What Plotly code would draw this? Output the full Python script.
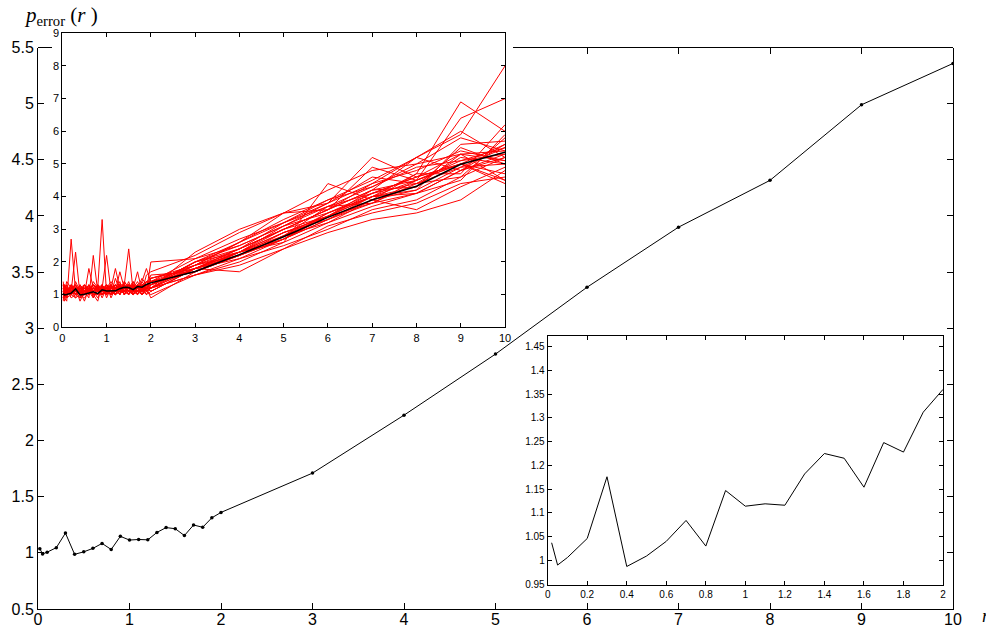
import plotly.graph_objects as go

# ---------------- data ----------------
r_values = [0.02, 0.05, 0.1, 0.2, 0.3, 0.4, 0.5, 0.6, 0.7, 0.8, 0.9, 1.0,
            1.1, 1.2, 1.3, 1.4, 1.5, 1.6, 1.7, 1.8, 1.9, 2.0,
            3, 4, 5, 6, 7, 8, 9, 10]
p_error_mean = [1.037, 0.990, 1.006, 1.046, 1.176, 0.987, 1.009, 1.040, 1.084, 1.030,
                1.147, 1.114, 1.119, 1.116, 1.182, 1.225, 1.215, 1.154, 1.248, 1.228,
                1.312, 1.360,
                1.71, 2.226, 2.77, 3.365, 3.90, 4.317, 4.99, 5.358]

# individual realisations (red curves in the upper-left inset)
run01 = [1.1,0.9,0.8,2.7,1.1,0.9,1.0,1.2,1.0,0.8,1.3,1.1,1.0,1.2,1.3,1.1,1.4,1.0,1.2,1.3,1.4,1.5, 1.8,2.3,2.9,3.4,4.0,4.5,5.1,5.5]
run02 = [1.3,1.0,1.2,1.1,2.3,1.0,0.9,1.1,1.3,1.2,0.9,1.2,1.3,1.0,1.1,1.4,1.2,1.3,1.1,1.2,1.3,1.2, 1.6,2.0,2.6,3.2,3.7,4.1,4.8,5.2]
run03 = [0.9,1.2,1.0,1.3,1.1,1.2,1.1,0.9,2.2,1.1,1.0,1.3,1.2,1.1,1.4,1.0,1.3,1.2,1.4,1.1,1.2,1.4, 1.7,2.2,2.7,3.3,3.9,4.2,4.9,5.0]
run04 = [1.0,0.8,1.1,1.0,1.2,0.8,1.1,1.3,1.0,1.2,3.3,1.0,1.1,1.3,1.2,1.2,1.1,1.4,1.2,1.5,1.3,1.3, 1.8,2.4,3.0,3.6,4.2,4.3,5.3,5.4]
run05 = [1.2,1.1,0.9,1.2,1.3,1.1,1.2,1.0,1.1,0.9,1.2,2.2,1.1,1.0,1.3,1.3,1.2,1.1,1.3,1.2,1.4,1.3, 1.9,2.2,2.8,3.4,3.8,4.4,4.6,5.8]
run06 = [1.4,1.0,1.2,0.9,1.0,1.2,1.3,1.1,0.9,1.3,1.1,1.2,1.4,1.2,1.1,1.3,2.4,1.1,1.2,1.3,1.2,1.6, 1.7,2.3,3.1,3.5,4.1,4.6,5.0,4.7]
run07 = [0.8,1.3,1.0,1.1,0.9,1.3,1.0,1.8,1.2,1.0,1.3,0.9,1.2,1.8,1.2,1.0,1.3,1.2,1.7,1.1,1.3,1.2, 1.6,2.1,2.5,3.0,3.6,3.9,4.6,5.2]
run08 = [1.1,1.2,1.3,1.0,1.2,1.0,1.1,1.2,1.3,1.1,1.2,1.0,1.3,1.1,1.7,1.2,1.0,1.3,1.1,1.4,1.8,1.4, 2.1,2.5,3.1,3.8,4.4,4.8,5.4,5.1]
run09 = [1.0,1.1,1.4,1.2,1.1,1.1,0.8,1.2,1.1,1.3,1.0,1.2,1.1,1.0,1.2,1.1,1.2,1.0,1.3,1.2,1.1,2.0, 2.1,2.7,3.2,3.9,4.5,5.2,5.9,8.0]
run10 = [1.2,0.9,1.0,1.3,1.0,1.2,1.1,1.0,1.4,1.2,1.1,1.3,0.9,1.2,1.1,1.3,1.1,1.2,1.0,1.3,1.2,1.3, 2.0,2.3,2.9,3.4,4.2,4.5,6.4,7.0]
run11 = [0.9,1.0,1.1,1.1,1.3,1.0,1.2,1.1,1.0,1.1,1.2,1.1,1.3,1.2,1.0,1.2,1.3,1.1,1.2,1.0,1.3,1.1, 1.8,2.2,2.8,3.2,3.9,4.7,6.9,6.0]
run12 = [1.3,1.1,1.0,1.2,1.1,0.9,1.3,1.2,1.1,1.0,1.3,1.0,1.2,1.1,1.3,1.1,1.2,1.4,1.0,1.2,1.1,1.2, 1.9,2.6,3.3,3.9,4.3,5.0,5.3,4.5]
run13 = [1.1,1.3,0.9,1.0,1.2,1.1,1.0,1.3,0.9,1.2,1.0,1.1,1.0,1.3,1.2,1.0,1.1,1.3,1.1,1.0,1.2,0.9, 1.7,2.3,2.7,3.3,4.0,4.3,5.5,5.0]
run14 = [1.0,1.0,1.2,1.1,1.0,1.3,1.1,1.0,1.2,1.1,1.0,1.2,1.1,1.0,1.3,1.2,1.0,1.2,1.3,1.1,1.3,1.2, 2.3,3.0,3.5,3.8,5.2,4.6,5.0,4.4]
run15 = [1.2,1.2,1.1,1.0,0.9,1.0,1.2,1.0,1.1,1.3,1.2,1.0,1.2,1.3,1.0,1.3,1.1,1.0,1.2,1.2,1.0,1.3, 1.8,2.3,2.6,4.4,3.9,3.6,4.3,4.9]
run16 = [0.9,1.1,1.0,1.2,1.2,1.0,1.1,1.2,1.0,1.1,1.1,1.3,1.0,1.1,1.1,1.2,1.1,1.2,1.0,1.3,1.2,1.1, 1.8,1.7,2.4,2.9,3.3,3.5,3.9,4.8]
run17 = [1.3,0.9,1.2,1.1,1.1,1.2,1.0,1.1,1.2,1.0,1.2,1.1,1.3,1.0,1.2,1.0,1.2,1.1,1.3,1.1,1.2,1.4, 1.7,2.2,2.9,3.3,3.8,4.5,5.0,5.6]
run18 = [1.0,1.2,1.1,1.2,1.0,1.1,1.3,1.1,1.2,1.1,1.0,1.2,1.1,1.2,1.2,1.1,1.3,1.0,1.1,1.2,1.3,1.3, 1.9,2.4,3.0,3.6,4.2,5.2,4.8,5.3]
run19 = [1.1,1.0,1.3,1.0,1.2,1.0,1.1,1.2,1.0,1.2,1.1,1.0,1.2,1.1,1.2,1.3,1.0,1.2,1.2,1.0,1.1,1.5, 1.8,2.1,2.7,3.5,4.0,4.2,5.6,5.7]
run20 = [1.2,1.1,1.0,1.1,1.1,1.2,1.0,1.1,1.3,1.2,1.0,1.1,1.0,1.2,1.1,1.2,1.2,1.3,1.1,1.3,1.2,1.2, 2.0,2.5,3.1,3.7,4.3,4.9,5.1,5.3]
run21 = [1.1,1.2,1.0,1.3,1.2,1.1,1.0,1.3,1.1,1.0,1.2,1.2,1.1,1.0,1.3,1.1,1.3,1.1,1.2,1.1,1.4,1.4, 1.9,2.3,2.8,3.7,3.8,4.1,4.5,5.9]
run22 = [1.0,1.3,1.1,1.0,1.1,1.0,1.2,1.1,1.2,1.0,1.3,1.0,1.2,1.2,1.0,1.2,1.1,1.0,1.3,1.2,1.0,1.1, 1.8,2.2,2.7,3.4,4.1,4.4,4.9,5.5]
run23 = [1.2,1.0,1.1,1.0,1.4,1.1,1.0,1.2,1.1,1.2,1.3,1.1,1.0,1.5,1.1,1.2,1.1,1.3,1.2,1.1,1.6,1.7, 2.2,2.9,3.5,4.2,4.8,5.0,5.8,5.4]
run24 = [1.0,1.1,1.2,1.1,1.0,1.2,1.1,1.3,1.0,1.1,1.2,1.3,1.1,1.2,1.0,1.4,1.2,1.1,1.3,1.2,1.1,1.0, 1.6,1.9,2.4,3.1,3.5,3.8,4.4,4.6]
run25 = [1.3,1.2,1.0,1.2,1.1,1.0,1.3,1.0,1.2,1.1,1.0,1.2,1.2,1.1,1.2,1.1,1.0,1.2,1.1,1.4,1.2,1.5, 1.9,2.6,3.5,3.6,4.4,5.2,6.0,5.2]
run26 = [1.1,1.0,1.1,1.3,1.0,1.2,1.0,1.1,1.1,1.3,1.1,1.0,1.2,1.3,1.1,1.2,1.2,1.0,1.2,1.3,1.1,1.2, 1.8,2.3,3.0,3.4,4.0,4.1,4.8,5.6]
run27 = [1.2,1.3,1.2,1.0,1.1,1.3,1.1,1.2,1.0,1.0,1.2,1.1,1.1,1.2,1.3,1.0,1.2,1.3,1.1,1.2,1.3,1.3, 2.0,2.6,3.2,3.8,4.6,4.4,5.2,5.0]
run28 = [0.9,1.0,1.2,1.1,1.2,1.1,1.2,1.0,1.3,1.1,1.1,1.2,1.3,1.0,1.1,1.2,1.3,1.1,1.0,1.2,1.2,1.4, 1.7,2.2,2.8,3.5,4.0,4.7,4.7,6.2]
run29 = [1.1,1.1,1.0,1.2,1.3,1.0,1.1,1.1,1.2,1.2,1.0,1.1,1.2,1.1,1.2,1.3,1.1,1.2,1.2,1.1,1.4,1.3, 2.0,2.4,3.0,3.6,4.9,4.5,5.0,4.5]
run30 = [1.0,1.2,1.1,1.1,1.0,1.2,1.2,1.1,1.0,1.2,1.1,1.2,1.0,1.2,1.1,1.1,1.3,1.2,1.3,1.0,1.2,1.2, 1.8,2.4,3.2,3.7,4.1,4.6,5.3,5.1]
runs = [run01, run02, run03, run04, run05, run06, run07, run08, run09, run10,
        run11, run12, run13, run14, run15, run16, run17, run18, run19, run20,
        run21, run22, run23, run24, run25, run26, run27, run28, run29, run30]

main_xticks = [0, 1, 2, 3, 4, 5, 6, 7, 8, 9, 10]
main_yticks = [0.5, 1, 1.5, 2, 2.5, 3, 3.5, 4, 4.5, 5, 5.5]
main_ytext = ["0.5", "1", "1.5", "2", "2.5", "3", "3.5", "4", "4.5", "5", "5.5"]
inset1_xticks = [0, 1, 2, 3, 4, 5, 6, 7, 8, 9, 10]
inset1_yticks = [0, 1, 2, 3, 4, 5, 6, 7, 8, 9]
inset2_xticks = [0, 0.2, 0.4, 0.6, 0.8, 1, 1.2, 1.4, 1.6, 1.8, 2]
inset2_xtext = ["0", "0.2", "0.4", "0.6", "0.8", "1", "1.2", "1.4", "1.6", "1.8", "2"]
inset2_yticks = [0.95, 1, 1.05, 1.1, 1.15, 1.2, 1.25, 1.3, 1.35, 1.4, 1.45]
inset2_ytext = ["0.95", "1", "1.05", "1.1", "1.15", "1.2", "1.25", "1.3", "1.35", "1.4", "1.45"]

# ---------------- layout geometry (pixels) ----------------
W, H = 986, 626
def fx(px):
    return px / W
def fy(py):
    return 1 - py / H

main_x = (38, 953)
main_y = (47.5, 609)
in1_x = (62.3, 505)
in1_y = (33.3, 327.3)
in2_x = (547.7, 943)
in2_y = (336, 585)
top_line_start = 513

FONT = "Liberation Sans, Arial, sans-serif"

fig = go.Figure()

# main curve
fig.add_trace(go.Scatter(x=r_values, y=p_error_mean, mode="lines+markers",
                         line=dict(color="black", width=1),
                         marker=dict(color="black", size=3.5),
                         xaxis="x", yaxis="y", showlegend=False))

# inset 1: individual runs + mean
for run in runs:
    fig.add_trace(go.Scatter(x=r_values, y=run, mode="lines",
                             line=dict(color="#ff0000", width=1),
                             xaxis="x2", yaxis="y2", showlegend=False))
fig.add_trace(go.Scatter(x=r_values, y=p_error_mean, mode="lines",
                         line=dict(color="black", width=1.5),
                         xaxis="x2", yaxis="y2", showlegend=False))

# inset 2: zoom on 0..2
fig.add_trace(go.Scatter(x=r_values[:22], y=p_error_mean[:22], mode="lines",
                         line=dict(color="black", width=1),
                         xaxis="x3", yaxis="y3", showlegend=False))

# invisible trace for the partial top frame axis of the main plot
fig.add_trace(go.Scatter(x=[10], y=[0], mode="markers", marker=dict(opacity=0),
                         xaxis="x4", yaxis="y4", showlegend=False, hoverinfo="skip"))

common_ax = dict(showline=True, linecolor="black", linewidth=1, ticks="inside",
                 tickcolor="black", showgrid=False, zeroline=False, automargin=False)

main_span = main_x[1] - main_x[0]
top_range_start = 10 * (top_line_start - main_x[0]) / main_span

fig.update_layout(
    width=W, height=H,
    margin=dict(l=0, r=0, t=0, b=0),
    paper_bgcolor="white", plot_bgcolor="rgba(0,0,0,0)",
    xaxis=dict(domain=[fx(main_x[0]), fx(main_x[1])], range=[0, 10],
               tickvals=main_xticks, ticklen=6, mirror=False, ticklabelstandoff=-4,
               tickfont=dict(family=FONT, size=16, color="black"), anchor="y",
               **common_ax),
    yaxis=dict(domain=[fy(main_y[1]), fy(main_y[0])], range=[0.5, 5.5],
               tickvals=main_yticks, ticktext=main_ytext, ticklen=6, mirror="ticks",
               tickfont=dict(family=FONT, size=16, color="black"), anchor="x",
               **common_ax),
    xaxis2=dict(domain=[fx(in1_x[0]), fx(in1_x[1])], range=[0, 10],
                tickvals=inset1_xticks, ticklen=4, mirror="ticks",
                tickfont=dict(family=FONT, size=11, color="black"), anchor="y2",
                **common_ax),
    yaxis2=dict(domain=[fy(in1_y[1]), fy(in1_y[0])], range=[0, 9],
                tickvals=inset1_yticks, ticklen=4, mirror="ticks",
                tickfont=dict(family=FONT, size=11, color="black"), anchor="x2",
                **common_ax),
    xaxis3=dict(domain=[fx(in2_x[0]), fx(in2_x[1])], range=[0, 2],
                tickvals=inset2_xticks, ticktext=inset2_xtext, ticklen=4, mirror="ticks",
                tickfont=dict(family=FONT, size=10, color="black"), anchor="y3",
                **common_ax),
    yaxis3=dict(domain=[fy(in2_y[1]), fy(in2_y[0])], range=[0.948, 1.4725],
                tickvals=inset2_yticks, ticktext=inset2_ytext, ticklen=4, mirror="ticks",
                tickfont=dict(family=FONT, size=10, color="black"), anchor="x3",
                **common_ax),
    xaxis4=dict(domain=[fx(top_line_start), fx(main_x[1])], range=[top_range_start, 10],
                side="top", tickvals=main_xticks, ticklen=6, showticklabels=False,
                anchor="y4", **common_ax),
    yaxis4=dict(domain=[fy(main_y[1]), fy(main_y[0])], range=[0.5, 5.5],
                visible=False, anchor="x4"),
    shapes=[dict(type="line", xref="paper", yref="paper",
                 x0=fx(main_x[0]), x1=fx(52), y0=fy(main_y[0]), y1=fy(main_y[0]),
                 line=dict(color="black", width=1))],
    annotations=[
        dict(text="<i>p</i><sub>error</sub> (<i>r</i> )", xref="paper", yref="paper",
             x=fx(22), y=fy(1), xanchor="left", yanchor="top", showarrow=False,
             font=dict(family="Liberation Serif, Times New Roman, serif", size=21, color="black")),
        dict(text="<i>r</i>", xref="paper", yref="paper",
             x=fx(980), y=fy(604), xanchor="left", yanchor="top", showarrow=False,
             font=dict(family="Liberation Serif, Times New Roman, serif", size=18, color="black")),
    ],
)

fig.write_html("out.html", config={"displayModeBar": False},
               post_script="document.body.style.margin='0px';")
